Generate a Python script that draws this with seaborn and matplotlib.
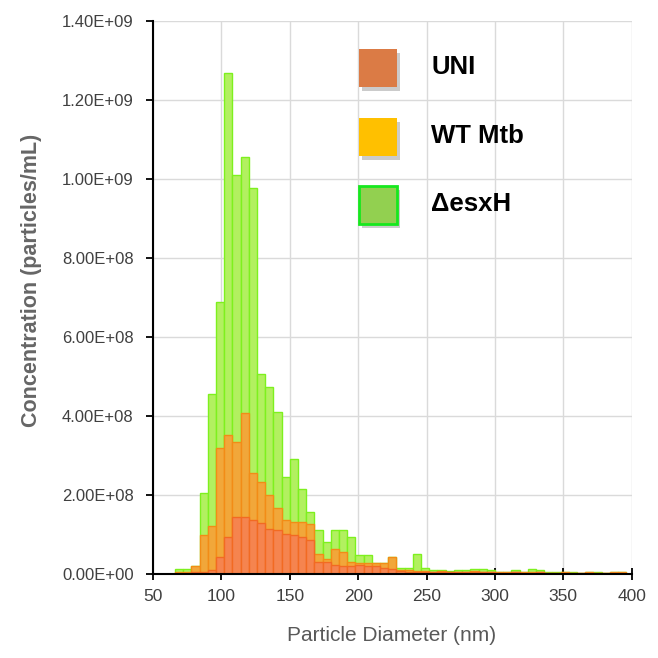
import numpy as np
import pandas as pd
import matplotlib
matplotlib.use("Agg")
import matplotlib.pyplot as plt
import seaborn as sns
from matplotlib.patches import Rectangle
from matplotlib.ticker import FuncFormatter, FixedLocator

sns.set_style("white")
plt.rcParams["font.family"] = ["Liberation Sans", "DejaVu Sans"]

# ---- data (bin centres in nm, concentrations in 1e6 particles/mL) ----
diameter_nm = [69, 75, 81, 87, 93, 99, 105, 111, 117, 123,
               129, 135, 141, 147, 153, 159, 165, 171, 177, 183,
               189, 195, 201, 207, 213, 219, 225, 231, 237, 243,
               249, 255, 261, 267, 273, 279, 285, 291, 297, 303,
               309, 315, 321, 327, 333, 339, 345, 351, 357, 363,
               369, 375, 381, 387, 393]

esxh = [12, 12, 20, 203, 456, 689, 1267, 1009, 1056, 977,
        506, 473, 410, 245, 290, 214, 155, 110, 80, 110,
        110, 93, 47, 47, 26, 26, 43, 14, 14, 49,
        14, 8, 10, 6, 10, 8, 12, 12, 8, 4,
        5, 8, 5, 12, 10, 3, 3, 5, 3, 2,
        5, 3, 2, 4, 5]

wt_mtb = [3, 4, 18, 97, 121, 319, 351, 332, 406, 254,
          233, 199, 165, 136, 131, 131, 126, 50, 38, 62,
          55, 29, 26, 26, 26, 26, 43, 8, 8, 6,
          6, 5, 6, 4, 5, 4, 6, 5, 4, 3,
          3, 5, 3, 4, 5, 2, 2, 3, 2, 1,
          3, 2, 1, 3, 3]

uni = [0, 0, 3, 5, 10, 43, 93, 144, 142, 136,
       127, 114, 109, 100, 98, 93, 85, 30, 28, 22,
       20, 20, 22, 20, 18, 15, 12, 6, 5, 4,
       4, 3, 4, 3, 3, 3, 4, 3, 3, 2,
       2, 3, 2, 2, 3, 1, 1, 2, 1, 1,
       2, 1, 1, 2, 2]

series_labels = ["UNI", "WT Mtb", "\u0394esxH"]
x_ticks = [50, 100, 150, 200, 250, 300, 350, 400]
y_ticks = [0, 2e8, 4e8, 6e8, 8e8, 1.0e9, 1.2e9, 1.4e9]
bin_width = 6

# ---- figure ----
W = H = 658
fig = plt.figure(figsize=(W / 100, H / 100), dpi=100)
ax = fig.add_axes([153 / W, 1 - 573.5 / H, (631.7 - 153) / W, (573.5 - 21) / H])

centres = np.array(diameter_nm, dtype=float)
edges = [float(c) - bin_width / 2 for c in diameter_nm] + [diameter_nm[-1] + bin_width / 2]

styles = [
    (esxh, "#B2F060", "#7EF01E"),
    (wt_mtb, "#F1A73A", "#F28C16"),
    (uni, "#F5844F", "#F26A22"),
]
for vals, fc, ec in styles:
    df = pd.DataFrame({"diameter": centres,
                       "conc": np.array(vals, dtype=float) * 1e6})
    sns.histplot(data=df, x="diameter", weights="conc", bins=edges,
                 ax=ax, color=fc, edgecolor=ec, linewidth=1.0, alpha=1.0,
                 element="bars", fill=True, zorder=3)

ax.set_xlim(50, 400)
ax.set_ylim(0, 1.4e9)
ax.xaxis.set_major_locator(FixedLocator(x_ticks))
ax.yaxis.set_major_locator(FixedLocator(y_ticks))
ax.yaxis.set_major_formatter(FuncFormatter(lambda v, p: f"{v:.2E}"))

ax.grid(True, color="#DADADA", linewidth=1.0, zorder=0)
ax.set_axisbelow(True)
for s in ["top", "right"]:
    ax.spines[s].set_visible(False)
for s in ["left", "bottom"]:
    ax.spines[s].set_color("black")
    ax.spines[s].set_linewidth(1.5)
    ax.spines[s].set_zorder(5)

ax.tick_params(axis="y", direction="out", length=5, width=1.3, color="black",
               labelsize=12, labelcolor="#404040", pad=9, left=True)
ax.tick_params(axis="x", direction="inout", length=8, width=1.3, color="black",
               labelsize=12.5, labelcolor="#404040", pad=7, bottom=True)

ax.set_xlabel("Particle Diameter (nm)", fontsize=15, color="#595959")
ax.set_ylabel("Concentration (particles/mL)", fontsize=15.5, fontweight="bold",
              color="#666666")
ax.xaxis.set_label_coords(0.499, -0.095)
ax.yaxis.set_label_coords(-0.232, 0.53)

# ---- legend (drawn manually) ----
leg_colors = [("#DB7B45", "#DB7B45", 0), ("#FFC000", "#FFC000", 0), ("#92D050", "#16E81E", 2.0)]
leg_tops = [49, 118, 186]
for (fc, ec, lw), top, lab in zip(leg_colors, leg_tops, series_labels):
    x0, size = 359, 38
    shadow = Rectangle(((x0 + 3) / W, 1 - (top + size + 4) / H), size / W, size / H,
                       transform=fig.transFigure, facecolor="#7F7F7F", alpha=0.4,
                       edgecolor="none", zorder=9)
    fig.add_artist(shadow)
    sq = Rectangle((x0 / W, 1 - (top + size) / H), size / W, size / H,
                   transform=fig.transFigure, facecolor=fc, edgecolor=ec,
                   linewidth=lw, zorder=10)
    fig.add_artist(sq)
    fig.text(431 / W, 1 - (top + size / 2 - 1) / H, lab, fontsize=18.5, fontweight="bold",
             color="black", va="center", ha="left", zorder=11)

fig.savefig("out.png", dpi=100, facecolor="white")
